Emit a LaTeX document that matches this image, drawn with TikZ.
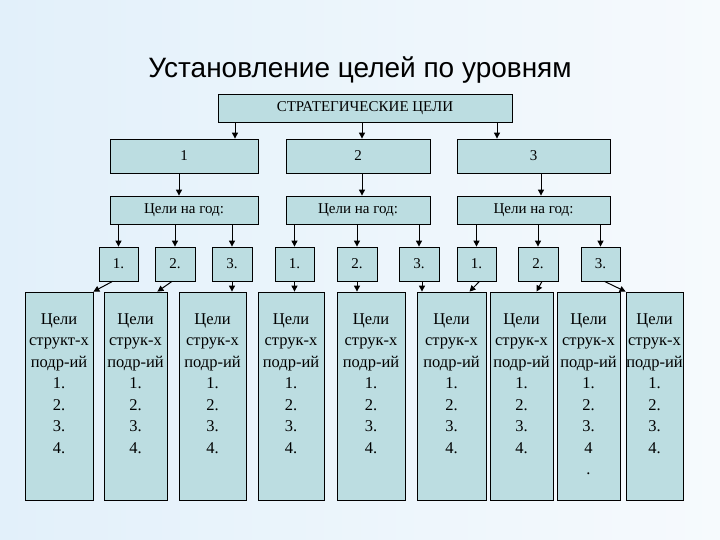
\documentclass[tikz,border=0pt]{standalone}
\usepackage{fontspec}
\setmainfont{Liberation Serif}
\newfontfamily\titlefont{Liberation Sans}
\usetikzlibrary{arrows.meta}
\definecolor{boxf}{HTML}{BCDDE1}
\definecolor{bgl}{HTML}{E2F0FA}
\definecolor{bgr}{HTML}{F6FAFD}
\begin{document}
\begin{tikzpicture}[x=1pt,y=-1pt,
  bx/.style={draw=black,line width=0.8pt,fill=boxf,inner sep=0pt,font=\fontsize{15}{15}\selectfont},
  ar/.style={-{Triangle[length=6pt,width=6pt]},line width=1pt}]
\shade[left color=bgl,right color=bgr] (0,0) rectangle (720,540);
\useasboundingbox (0,0) rectangle (720,540);
\node[font=\titlefont\fontsize{28}{28}\selectfont] (title) at (360,70) {Установление целей по уровням};
\newcommand\bxx[6]{\node[bx,minimum width={#4-#2},minimum height={#5-#3}] (#1) at ({(#2+#4)/2},{(#3+#5)/2}) {#6};}
\bxx{s}{218}{94}{512}{122}{СТРАТЕГИЧЕСКИЕ ЦЕЛИ}
\bxx{a}{110}{139}{258}{173}{1}
\bxx{b}{286}{139}{430}{173}{2}
\bxx{c}{457}{139}{610}{173}{3}
\bxx{ya}{110}{196}{258}{224}{Цели на год:}
\bxx{yb}{286}{196}{430}{224}{Цели на год:}
\bxx{yc}{457}{196}{610}{224}{Цели на год:}
\bxx{a1}{99}{247}{138}{281}{1.}
\bxx{a2}{155}{247}{195}{281}{2.}
\bxx{a3}{212}{247}{252}{281}{3.}
\bxx{b1}{275}{247}{314}{281}{1.}
\bxx{b2}{337}{247}{377}{281}{2.}
\bxx{b3}{399}{247}{439}{281}{3.}
\bxx{c1}{457}{247}{496}{281}{1.}
\bxx{c2}{518}{247}{558}{281}{2.}
\bxx{c3}{581}{247}{620}{281}{3.}
\newcommand\tall[5]{\node[bx,minimum width={#3-#2},minimum height=208] (#1) at ({(#2+#3)/2},396) {};
  \node[anchor=north,align=center,inner sep=0pt,font=\fontsize{16.5}{21.5}\selectfont] at ({(#2+#3)/2},313) {Цели\\#4\\подр-ий\\1.\\2.\\3.\\#5};}
\tall{t1}{25}{93}{структ-х}{4.}
\tall{t2}{104}{167}{струк-х}{4.}
\tall{t3}{179}{246}{струк-х}{4.}
\tall{t4}{258}{324}{струк-х}{4.}
\tall{t5}{337}{405}{струк-х}{4.}
\tall{t6}{417}{486}{струк-х}{4.}
\tall{t7}{490}{553}{струк-х}{4.}
\tall{t8}{557}{620}{струк-х}{4\\.}
\tall{t9}{626}{683}{струк-х}{4.}
\draw[ar] (s.south -| 235,0) -- (a.north -| 235,0);
\draw[ar] (s.south -| 362,0) -- (b.north -| 362,0);
\draw[ar] (s.south -| 497,0) -- (c.north -| 497,0);
\draw[ar] (a.south -| 179,0) -- (ya.north -| 179,0);
\draw[ar] (b.south -| 362,0) -- (yb.north -| 362,0);
\draw[ar] (c.south -| 541,0) -- (yc.north -| 541,0);
\foreach \y/\n in {ya/a1,ya/a2,ya/a3,yb/b1,yb/b2,yb/b3,yc/c1,yc/c2,yc/c3}{
  \draw[ar] (\y.south -| \n.north) -- (\n.north);}
\draw[ar] (a1.south) ++(-6,0) coordinate (p1) (p1) -- (t1.north east);
\draw[ar] (a2.south) ++(-3,0) coordinate (p2) (p2) -- ([xshift=-10pt]t2.north east);
\draw[ar] (a3.south) -- (a3.south |- t3.north);
\draw[ar] (b1.south) -- (b1.south |- t4.north);
\draw[ar] (b2.south) -- (b2.south |- t5.north);
\draw[ar] (b3.south -| 422,0) -- (t6.north -| 422,0);
\draw[ar] (c1.south) ++(3,0) coordinate (q1) (q1) -- ([xshift=18pt]t6.north);
\draw[ar] (c2.south) ++(4,0) coordinate (q2) (q2) -- ([xshift=15pt]t7.north);
\draw[ar] (c3.south) ++(4,0) coordinate (q3) (q3) -- (t9.north west);
\end{tikzpicture}
\end{document}
